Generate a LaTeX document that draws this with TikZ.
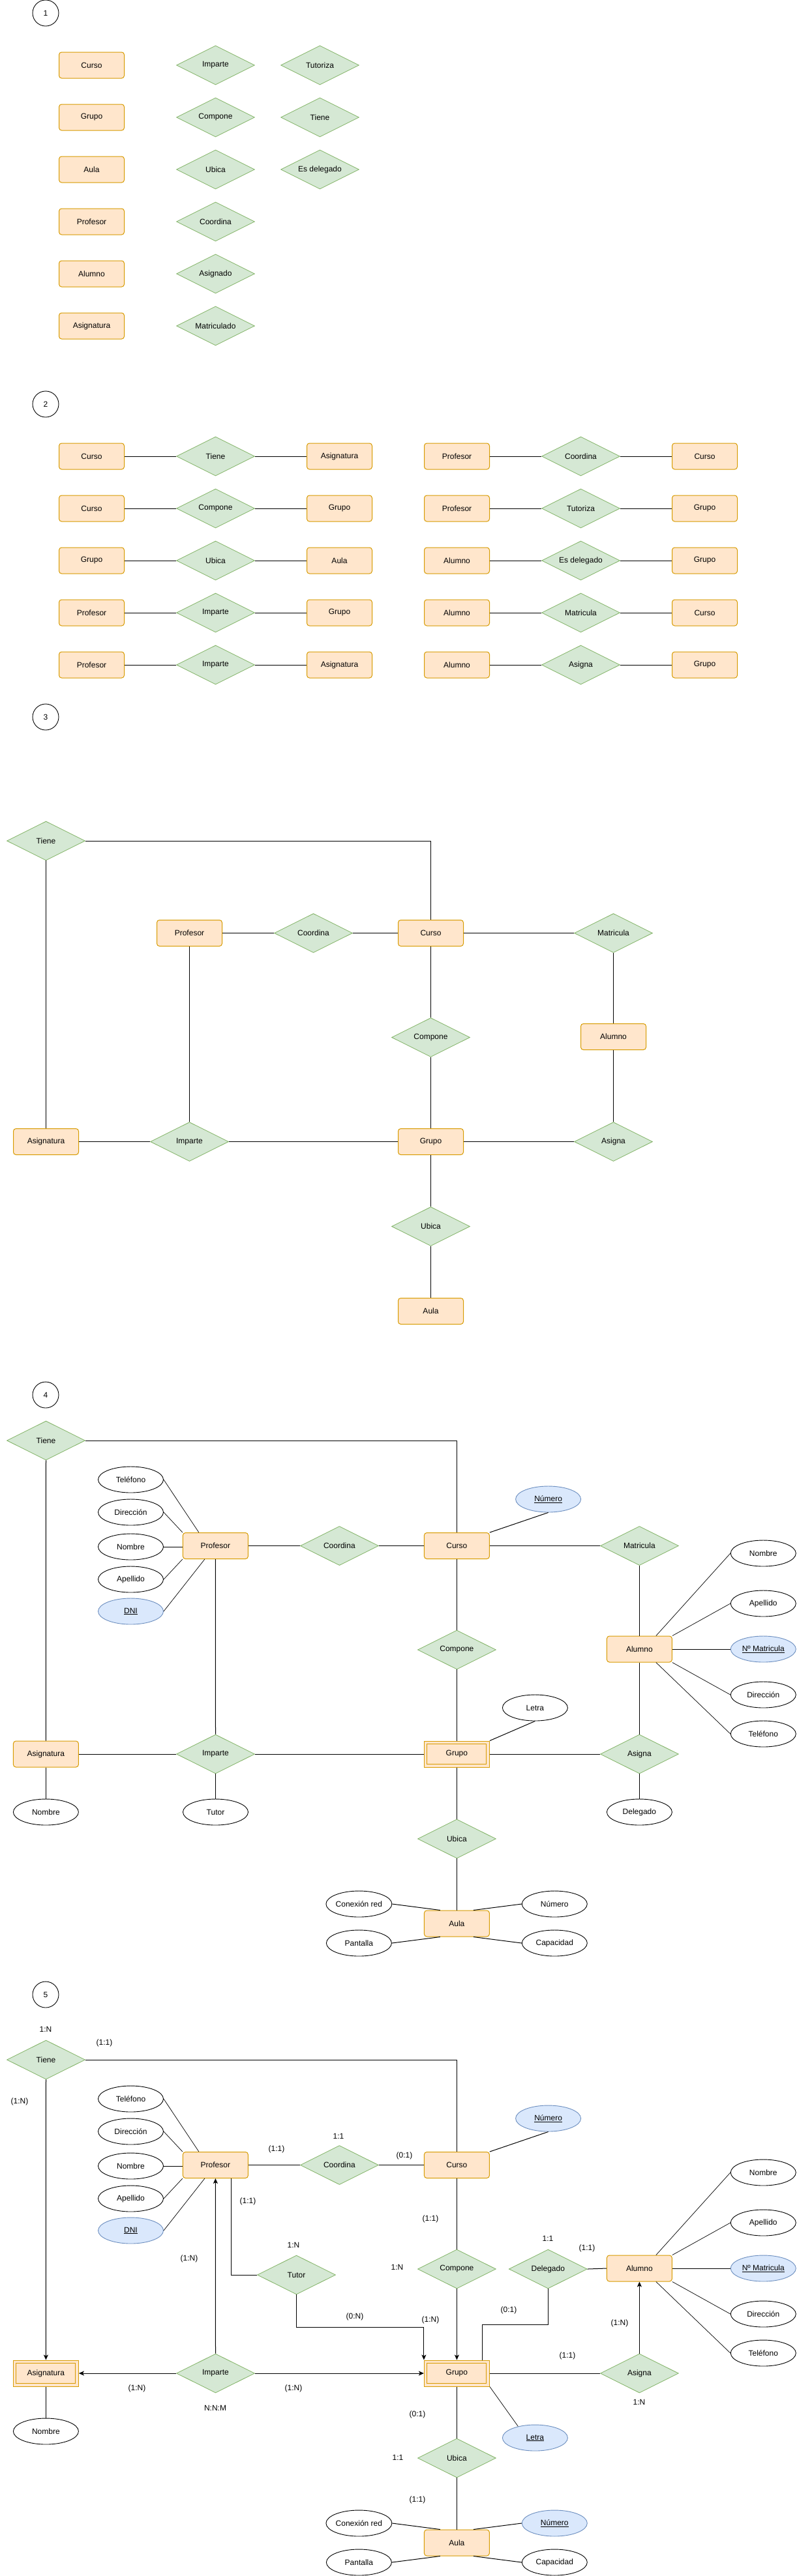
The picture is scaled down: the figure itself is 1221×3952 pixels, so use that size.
\documentclass[tikz,border=0pt]{standalone}
\usepackage{fontspec}
\setmainfont{Liberation Sans}
\usetikzlibrary{shapes.geometric,arrows.meta,calc}
\definecolor{entF}{HTML}{FFE6CC}
\definecolor{entD}{HTML}{D79B00}
\definecolor{relF}{HTML}{D5E8D4}
\definecolor{relD}{HTML}{82B366}
\definecolor{keyF}{HTML}{DAE8FC}
\definecolor{keyD}{HTML}{6C8EBF}
\begin{document}
\begin{tikzpicture}[x=1pt,y=-1pt,
  every node/.style={font=\fontsize{12}{14}\selectfont, inner sep=0pt},
  ent/.style={rectangle, rounded corners=4pt, draw=entD, fill=entF, line width=1pt, minimum width=100pt, minimum height=40pt},
  weak/.style={rectangle, draw=entD, fill=entF, line width=1pt, minimum width=100pt, minimum height=40pt},
  rel/.style={diamond, aspect=2, draw=relD, fill=relF, line width=0.8pt, minimum width=120pt, minimum height=60pt},
  attr/.style={ellipse, draw=black, fill=white, line width=0.9pt, minimum width=100pt, minimum height=40pt},
  keyattr/.style={ellipse, draw=keyD, fill=keyF, line width=0.9pt, minimum width=100pt, minimum height=40pt},
  num/.style={circle, draw=black, fill=white, line width=0.9pt, minimum size=40pt},
  lbl/.style={},
  conn/.style={draw=black, line width=1pt},
  arr/.style={conn, -{Stealth[length=8pt,width=7pt,inset=2pt]}},
  inner/.style={draw=entD, line width=1pt}
  ]
\fill[white] (0,0) rectangle (1221,3952);
\useasboundingbox (0,0) rectangle (1221,3952);

% ---------------- Section 1 ----------------
\node[num] (n1) at (70,20) {1};
\node[ent] (e1a) at (140.5,100) {Curso};
\node[ent] (e1b) at (140.5,180) {Grupo};
\node[ent] (e1c) at (140.5,260) {Aula};
\node[ent] (e1d) at (140.5,340) {Profesor};
\node[ent] (e1e) at (140.5,420) {Alumno};
\node[ent] (e1f) at (140.5,500) {Asignatura};
\node[rel] (r1a) at (330.5,100) {Imparte};
\node[rel] (r1b) at (330.5,180) {Compone};
\node[rel] (r1c) at (330.5,260) {Ubica};
\node[rel] (r1d) at (330.5,340) {Coordina};
\node[rel] (r1e) at (330.5,420) {Asignado};
\node[rel] (r1f) at (330.5,500) {Matriculado};
\node[rel] (r1g) at (490.5,100) {Tutoriza};
\node[rel] (r1h) at (490.5,180) {Tiene};
\node[rel] (r1i) at (490.5,260) {Es delegado};

% ---------------- Section 2 ----------------
\node[num] (n2) at (70,620) {2};
\foreach \yy/\aa/\rr/\bb [count=\i] in {700/Curso/Tiene/Asignatura, 780/Curso/Compone/Grupo, 860/Grupo/Ubica/Aula, 940/Profesor/Imparte/Grupo, 1020/Profesor/Imparte/Asignatura} {
  \node[ent] (la\i) at (140.5,\yy) {\aa};
  \node[rel] (lr\i) at (330.5,\yy) {\rr};
  \node[ent] (lb\i) at (520.5,\yy) {\bb};
  \draw[conn] (la\i.east) -- (lr\i.west);
  \draw[conn] (lr\i.east) -- (lb\i.west);
}
\foreach \yy/\aa/\rr/\bb [count=\i] in {700/Profesor/Coordina/Curso, 780/Profesor/Tutoriza/Grupo, 860/Alumno/Es delegado/Grupo, 940/Alumno/Matricula/Curso, 1020/Alumno/Asigna/Grupo} {
  \node[ent] (ra\i) at (700.5,\yy) {\aa};
  \node[rel] (rr\i) at (890.5,\yy) {\rr};
  \node[ent] (rb\i) at (1080.5,\yy) {\bb};
  \draw[conn] (ra\i.east) -- (rr\i.west);
  \draw[conn] (rr\i.east) -- (rb\i.west);
}

% ---------------- Section 3 ----------------
\node[num] (n3) at (70,1100) {3};
\node[rel] (t3) at (70.5,1290) {Tiene};
\node[ent] (p3) at (290.5,1431.5) {Profesor};
\node[rel] (co3) at (480.5,1431.5) {Coordina};
\node[ent] (cu3) at (660.5,1431.5) {Curso};
\node[rel] (m3) at (940.5,1431.5) {Matricula};
\node[rel] (cp3) at (660.5,1591.5) {Compone};
\node[ent] (al3) at (940.5,1590.5) {Alumno};
\node[ent] (as3) at (70.5,1751.5) {Asignatura};
\node[rel] (i3) at (290.5,1751.5) {Imparte};
\node[ent] (g3) at (660.5,1751.5) {Grupo};
\node[rel] (ag3) at (940.5,1751.5) {Asigna};
\node[rel] (u3) at (660.5,1881.5) {Ubica};
\node[ent] (au3) at (660.5,2011.5) {Aula};
\draw[conn] (t3.east) -| (cu3.north);
\draw[conn] (t3.south) -- (as3.north);
\draw[conn] (p3.east) -- (co3.west);
\draw[conn] (co3.east) -- (cu3.west);
\draw[conn] (cu3.east) -- (m3.west);
\draw[conn] (m3.south) -- (al3.north);
\draw[conn] (al3.south) -- (ag3.north);
\draw[conn] (cu3.south) -- (cp3.north);
\draw[conn] (cp3.south) -- (g3.north);
\draw[conn] (p3.south) -- (i3.north);
\draw[conn] (as3.east) -- (i3.west);
\draw[conn] (i3.east) -- (g3.west);
\draw[conn] (g3.east) -- (ag3.west);
\draw[conn] (g3.south) -- (u3.north);
\draw[conn] (u3.south) -- (au3.north);

% ---------------- Section 4 ----------------
\node[num] (n4) at (70,2140) {4};
\node[rel] (t4) at (70.5,2210) {Tiene};
\node[attr] (tel4) at (200.5,2270) {Teléfono};
\node[attr] (dir4) at (200.5,2320) {Dirección};
\node[attr] (nom4) at (200.5,2373) {Nombre};
\node[attr] (ape4) at (200.5,2423) {Apellido};
\node[keyattr] (dni4) at (200.5,2472) {\underline{DNI}};
\node[ent] (p4) at (330.4,2371.5) {Profesor};
\node[rel] (co4) at (520.4,2371.5) {Coordina};
\node[ent] (cu4) at (700.4,2371.5) {Curso};
\node[keyattr] (num4) at (840.6,2300) {\underline{Número}};
\node[rel] (m4) at (980.4,2371.5) {Matricula};
\node[rel] (cp4) at (700.4,2531) {Compone};
\node[ent] (al4) at (980.4,2530) {Alumno};
\node[attr] (anom4) at (1170.3,2383) {Nombre};
\node[attr] (aape4) at (1170.3,2460) {Apellido};
\node[keyattr] (amat4) at (1170.3,2530) {\underline{Nº Matricula}};
\node[attr] (adir4) at (1170.3,2600) {Dirección};
\node[attr] (atel4) at (1170.3,2660) {Teléfono};
\node[ent] (as4) at (70.4,2691) {Asignatura};
\node[attr] (asn4) at (70.4,2780) {Nombre};
\node[rel] (i4) at (330.5,2691) {Imparte};
\node[attr] (tut4) at (330.5,2780) {Tutor};
\node[weak] (g4) at (700.4,2691) {Grupo};
\draw[inner] ([shift={(5,5)}]g4.north west) rectangle ([shift={(-5,-5)}]g4.south east);
\node[attr] (let4) at (820.4,2620) {Letra};
\node[rel] (ag4) at (980.4,2691) {Asigna};
\node[attr] (del4) at (980.4,2780) {Delegado};
\node[rel] (u4) at (700.4,2821) {Ubica};
\node[ent] (au4) at (700.4,2951) {Aula};
\node[attr] (con4) at (550.4,2921) {Conexión red};
\node[attr] (aun4) at (850.3,2921) {Número};
\node[attr] (pan4) at (550.4,2981) {Pantalla};
\node[attr] (cap4) at (850.3,2981) {Capacidad};

\draw[conn] (t4.east) -| (cu4.north);
\draw[conn] (t4.south) -- (as4.north);
\draw[conn, line width=0.7pt] (tel4.east) -- ([xshift=25pt]p4.north west);
\draw[conn, line width=0.7pt] (dir4.east) -- (p4.north west);
\draw[conn] (nom4.east) -- (nom4.east -| p4.west);
\draw[conn, line width=0.7pt] (ape4.east) -- (p4.south west);
\draw[conn, line width=0.7pt] (dni4.east) -- ([xshift=34pt]p4.south west);
\draw[conn] (p4.east) -- (co4.west);
\draw[conn] (co4.east) -- (cu4.west);
\draw[conn] (cu4.north east) -- (num4.south);
\draw[conn] (cu4.east) -- (m4.west);
\draw[conn] (m4.south) -- (al4.north);
\draw[conn] (al4.south) -- (ag4.north);
\draw[conn, line width=0.7pt] (anom4.west) -- ([xshift=-25pt]al4.north east);
\draw[conn, line width=0.7pt] (aape4.west) -- (al4.north east);
\draw[conn] (amat4.west) -- (al4.east);
\draw[conn, line width=0.7pt] (adir4.west) -- (al4.south east);
\draw[conn, line width=0.7pt] (atel4.west) -- ([xshift=-25pt]al4.south east);
\draw[conn] (cu4.south) -- (cp4.north);
\draw[conn] (cp4.south) -- (g4.north);
\draw[conn] (p4.south) -- (i4.north);
\draw[conn] (as4.east) -- (i4.west);
\draw[conn] (i4.east) -- (g4.west);
\draw[conn] (g4.east) -- (ag4.west);
\draw[conn] (as4.south) -- (asn4.north);
\draw[conn] (i4.south) -- (tut4.north);
\draw[conn] (ag4.south) -- (del4.north);
\draw[conn] (g4.north east) -- (let4.south);
\draw[conn] (g4.south) -- (u4.north);
\draw[conn] (u4.south) -- (au4.north);
\draw[conn] (con4.east) -- ([xshift=25pt]au4.north west);
\draw[conn] (aun4.west) -- ([xshift=-25pt]au4.north east);
\draw[conn] (pan4.east) -- ([xshift=25pt]au4.south west);
\draw[conn] (cap4.west) -- ([xshift=-25pt]au4.south east);

% ---------------- Section 5 ----------------
\node[num] (n5) at (70,3060) {5};
\node[rel] (t5) at (70.5,3160) {Tiene};
\node[attr] (tel5) at (200.5,3220) {Teléfono};
\node[attr] (dir5) at (200.5,3270) {Dirección};
\node[attr] (nom5) at (200.5,3323) {Nombre};
\node[attr] (ape5) at (200.5,3373) {Apellido};
\node[keyattr] (dni5) at (200.5,3422) {\underline{DNI}};
\node[ent] (p5) at (330.4,3321.5) {Profesor};
\node[rel] (co5) at (520.4,3321.5) {Coordina};
\node[ent] (cu5) at (700.4,3321.5) {Curso};
\node[keyattr] (num5) at (840.6,3250) {\underline{Número}};
\node[rel] (cp5) at (700.4,3481) {Compone};
\node[rel] (del5) at (840.3,3481) {Delegado};
\node[ent] (al5) at (980.4,3480) {Alumno};
\node[attr] (anom5) at (1170.3,3333) {Nombre};
\node[attr] (aape5) at (1170.3,3410) {Apellido};
\node[keyattr] (amat5) at (1170.3,3480) {\underline{Nº Matricula}};
\node[attr] (adir5) at (1170.3,3550) {Dirección};
\node[attr] (atel5) at (1170.3,3610) {Teléfono};
\node[rel] (tu5) at (454.5,3490) {Tutor};
\node[weak] (as5) at (70.4,3641) {Asignatura};
\draw[inner] ([shift={(5,5)}]as5.north west) rectangle ([shift={(-5,-5)}]as5.south east);
\node[attr] (asn5) at (70.4,3730) {Nombre};
\node[rel] (i5) at (330.5,3641) {Imparte};
\node[weak] (g5) at (700.4,3641) {Grupo};
\draw[inner] ([shift={(5,5)}]g5.north west) rectangle ([shift={(-5,-5)}]g5.south east);
\node[rel] (ag5) at (980.4,3641) {Asigna};
\node[keyattr] (let5) at (820.4,3740) {\underline{Letra}};
\node[rel] (u5) at (700.4,3771) {Ubica};
\node[ent] (au5) at (700.4,3901) {Aula};
\node[attr] (con5) at (550.4,3871) {Conexión red};
\node[keyattr] (aun5) at (850.3,3871) {\underline{Número}};
\node[attr] (pan5) at (550.4,3931) {Pantalla};
\node[attr] (cap5) at (850.3,3931) {Capacidad};

\draw[arr] (t5.south) -- (as5.north);
\draw[conn] (t5.east) -| (cu5.north);
\draw[conn, line width=0.7pt] (tel5.east) -- ([xshift=25pt]p5.north west);
\draw[conn, line width=0.7pt] (dir5.east) -- (p5.north west);
\draw[conn] (nom5.east) -- (nom5.east -| p5.west);
\draw[conn, line width=0.7pt] (ape5.east) -- (p5.south west);
\draw[conn, line width=0.7pt] (dni5.east) -- ([xshift=34pt]p5.south west);
\draw[conn] (p5.east) -- (co5.west);
\draw[conn] (co5.east) -- (cu5.west);
\draw[conn] (cu5.north east) -- (num5.south);
\draw[conn] (cu5.south) -- (cp5.north);
\draw[arr] (cp5.south) -- (g5.north);
\draw[conn] (del5.east) -- (al5.west);
\draw[conn] (del5.south) -- ++(0,55) -| ([xshift=-11pt]g5.north east);
\draw[arr] (i5.north) -- (p5.south);
\draw[conn] ([xshift=75pt]p5.south west) |- (tu5.west);
\draw[arr] (tu5.south) -- ++(0,50) -| (g5.north west);
\draw[arr] (i5.west) -- (as5.east);
\draw[arr] (i5.east) -- (g5.west);
\draw[conn] (as5.south) -- (asn5.north);
\draw[conn] (g5.east) -- (ag5.west);
\draw[arr] (ag5.north) -- (al5.south);
\draw[conn, line width=0.7pt] (anom5.west) -- ([xshift=-25pt]al5.north east);
\draw[conn, line width=0.7pt] (aape5.west) -- (al5.north east);
\draw[conn] (amat5.west) -- (al5.east);
\draw[conn, line width=0.7pt] (adir5.west) -- (al5.south east);
\draw[conn, line width=0.7pt] (atel5.west) -- ([xshift=-25pt]al5.south east);
\draw[conn, line width=0.7pt] (g5.south east) -- (let5.146);
\draw[conn] (g5.south) -- (u5.north);
\draw[conn] (u5.south) -- (au5.north);
\draw[conn] (con5.east) -- ([xshift=25pt]au5.north west);
\draw[conn] (aun5.west) -- ([xshift=-25pt]au5.north east);
\draw[conn] (pan5.east) -- ([xshift=25pt]au5.south west);
\draw[conn] (cap5.west) -- ([xshift=-25pt]au5.south east);

% cardinality labels
\node[lbl] (c01) at (70,3113) {1:N};
\node[lbl] (c02) at (160,3134) {(1:1)};
\node[lbl] (c03) at (30,3224) {(1:N)};
\node[lbl] (c04) at (519,3277) {1:1};
\node[lbl] (c05) at (424,3297) {(1:1)};
\node[lbl] (c06) at (620,3307) {(0:1)};
\node[lbl] (c07) at (380,3377) {(1:1)};
\node[lbl] (c08) at (660,3404) {(1:1)};
\node[lbl] (c09) at (450,3444) {1:N};
\node[lbl] (c10) at (840,3434) {1:1};
\node[lbl] (c11) at (900,3449) {(1:1)};
\node[lbl] (c12) at (290,3465) {(1:N)};
\node[lbl] (c13) at (609,3478) {1:N};
\node[lbl] (c14) at (544,3554) {(0:N)};
\node[lbl] (c15) at (660,3559) {(1:N)};
\node[lbl] (c16) at (780,3544) {(0:1)};
\node[lbl] (c17) at (950,3564) {(1:N)};
\node[lbl] (c18) at (870,3614) {(1:1)};
\node[lbl] (c19) at (210,3664) {(1:N)};
\node[lbl] (c20) at (450,3664) {(1:N)};
\node[lbl] (c21) at (330,3694) {N:N:M};
\node[lbl] (c22) at (980,3685) {1:N};
\node[lbl] (c23) at (640,3704) {(0:1)};
\node[lbl] (c24) at (610,3770) {1:1};
\node[lbl] (c25) at (640,3835) {(1:1)};
\end{tikzpicture}
\end{document}
